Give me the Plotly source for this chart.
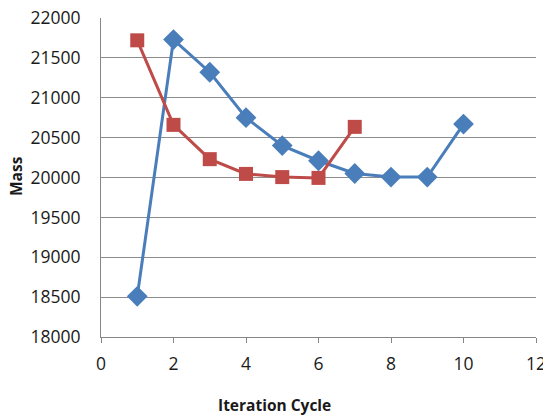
import plotly.graph_objects as go

cycles_a = [1, 2, 3, 4, 5, 6, 7, 8, 9, 10]
mass_a = [18510, 21730, 21320, 20750, 20400, 20210, 20050, 20005, 20005, 20670]
cycles_b = [1, 2, 3, 4, 5, 6, 7]
mass_b = [21720, 20660, 20230, 20045, 20005, 19995, 20635]

x_ticks = [0, 2, 4, 6, 8, 10, 12]
y_ticks = [18000, 18500, 19000, 19500, 20000, 20500, 21000, 21500, 22000]

FONT = "Open Sans"
L, R, T, B = 101, 7, 18, 78
W, H = 543, 415

fig = go.Figure()
fig.add_trace(go.Scatter(
    x=cycles_a, y=mass_a, mode="lines+markers",
    line=dict(color="#4A7EBB", width=3),
    marker=dict(symbol="diamond", size=16, color="#4A7EBB"),
    showlegend=False,
))
fig.add_trace(go.Scatter(
    x=cycles_b, y=mass_b, mode="lines+markers",
    line=dict(color="#BE4B48", width=3),
    marker=dict(symbol="square", size=14, color="#BE4B48"),
    showlegend=False,
))

pw = W - L - R
ph = H - T - B

fig.update_layout(
    width=W, height=H,
    margin=dict(l=L, r=R, t=T, b=B, autoexpand=False),
    plot_bgcolor="white", paper_bgcolor="white",
    font=dict(family=FONT, size=16, color="#1a1a1a"),
    xaxis=dict(
        range=[0, 12], tickvals=x_ticks, ticktext=[str(v) for v in x_ticks],
        showgrid=False, zeroline=False, automargin=False,
        showline=True, linecolor="#868686", linewidth=1,
        ticks="outside", ticklen=5, tickcolor="#868686",
        ticklabeloverflow="allow", ticklabelstandoff=6,
        tickfont=dict(size=17.5),
    ),
    yaxis=dict(
        range=[18000, 22000], tickvals=y_ticks, ticktext=[str(v) for v in y_ticks],
        showgrid=True, gridcolor="#8C8C8C", gridwidth=1, zeroline=False,
        automargin=False,
        showline=True, linecolor="#868686", linewidth=1,
        ticks="", ticklabeloverflow="allow", ticklabelstandoff=16,
        tickfont=dict(size=17.5),
    ),
    annotations=[
        dict(text="<b>Iteration Cycle</b>", xref="paper", yref="paper",
             x=(274 - L) / pw, y=-(405 - (T + ph)) / ph,
             xanchor="center", yanchor="middle", showarrow=False,
             font=dict(size=15.5, family=FONT)),
        dict(text="<b>Mass</b>", xref="paper", yref="paper",
             x=-(L - 16) / pw, y=1 - (176 - T) / ph,
             xanchor="center", yanchor="middle", showarrow=False, textangle=-90,
             font=dict(size=15.5, family=FONT)),
    ],
)

fig.write_html("out.html", config={"displayModeBar": False},
               post_script="document.body.style.margin='0';")
